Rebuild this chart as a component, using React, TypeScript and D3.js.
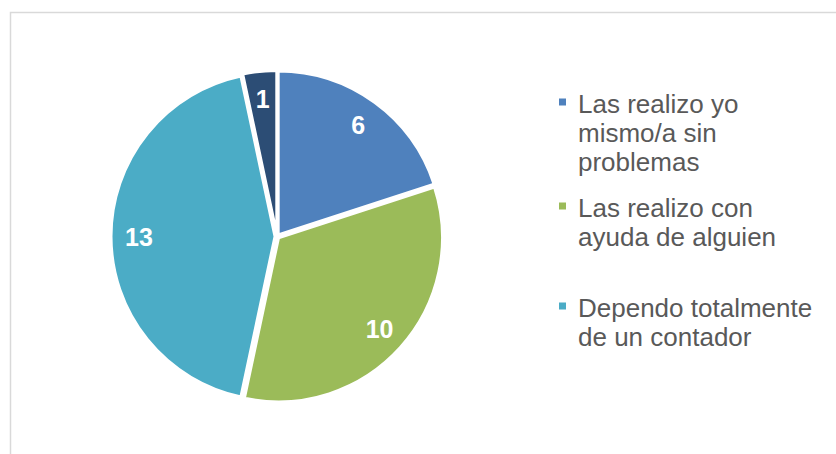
import React from "react";
import * as d3 from "d3";

const categories = [
  "Las realizo yo mismo/a sin problemas",
  "Las realizo con ayuda de alguien",
  "Dependo totalmente de un contador",
  "Otro",
];
const values = [6, 10, 13, 1];
const colors = ["#4F81BD", "#9BBB59", "#4BACC6", "#2C4D75"];
const legendLines = [
  ["Las realizo yo", "mismo/a sin", "problemas"],
  ["Las realizo con", "ayuda de alguien"],
  ["Dependo totalmente", "de un contador"],
];
const legendTops = [112.5, 216.5, 316.5];

export default function App() {
  const W = 836;
  const H = 454;
  const cx = 277;
  const cy = 236.5;
  const R = 164;
  const explode = 2;
  const data = values.map((v, i) => ({ v, i, name: categories[i] }));
  const pie = d3.pie<any>().value((d) => d.v).sort(null).startAngle(0);
  const arcs = pie(data);
  const arcGen = d3.arc<any>().innerRadius(0).outerRadius(R);
  const labelArc = d3.arc<any>().innerRadius(138).outerRadius(138);
  const font = "'Liberation Sans', Arial, sans-serif";
  const lineH = 29;

  return (
    <svg
      width={W}
      height={H}
      style={{ position: "absolute", left: 0, top: 0, background: "#fff" }}
    >
      <rect x={10.5} y={12.5} width={W + 20} height={H + 20} fill="#fff" stroke="#d9d9d9" strokeWidth={1.5} />
      <g transform={`translate(${cx},${cy})`}>
        {arcs.map((a, k) => {
          const mid = (a.startAngle + a.endAngle) / 2;
          const dx = Math.sin(mid) * explode;
          const dy = -Math.cos(mid) * explode;
          return (
            <path
              key={k}
              transform={`translate(${dx},${dy})`}
              d={arcGen(a) as string}
              fill={colors[a.data.i]}
              stroke="#fff"
              strokeWidth={3}
              strokeLinejoin="round"
            />
          );
        })}
        {arcs.map((a, k) => {
          const [x, y] = labelArc.centroid(a);
          return (
            <text
              key={"l" + k}
              x={x}
              y={y}
              dy="0.36em"
              textAnchor="middle"
              fill="#fff"
              fontFamily={font}
              fontWeight="bold"
              fontSize={25}
            >
              {a.data.v}
            </text>
          );
        })}
      </g>
      {legendLines.map((lines, i) => (
        <g key={"lg" + i}>
          <rect x={559} y={legendTops[i] - 14} width={7} height={7} fill={colors[i]} />
          {lines.map((t, j) => (
            <text
              key={j}
              x={578}
              y={legendTops[i] + j * lineH}
              fill="#595959"
              fontFamily={font}
              fontSize={26}
            >
              {t}
            </text>
          ))}
        </g>
      ))}
    </svg>
  );
}
